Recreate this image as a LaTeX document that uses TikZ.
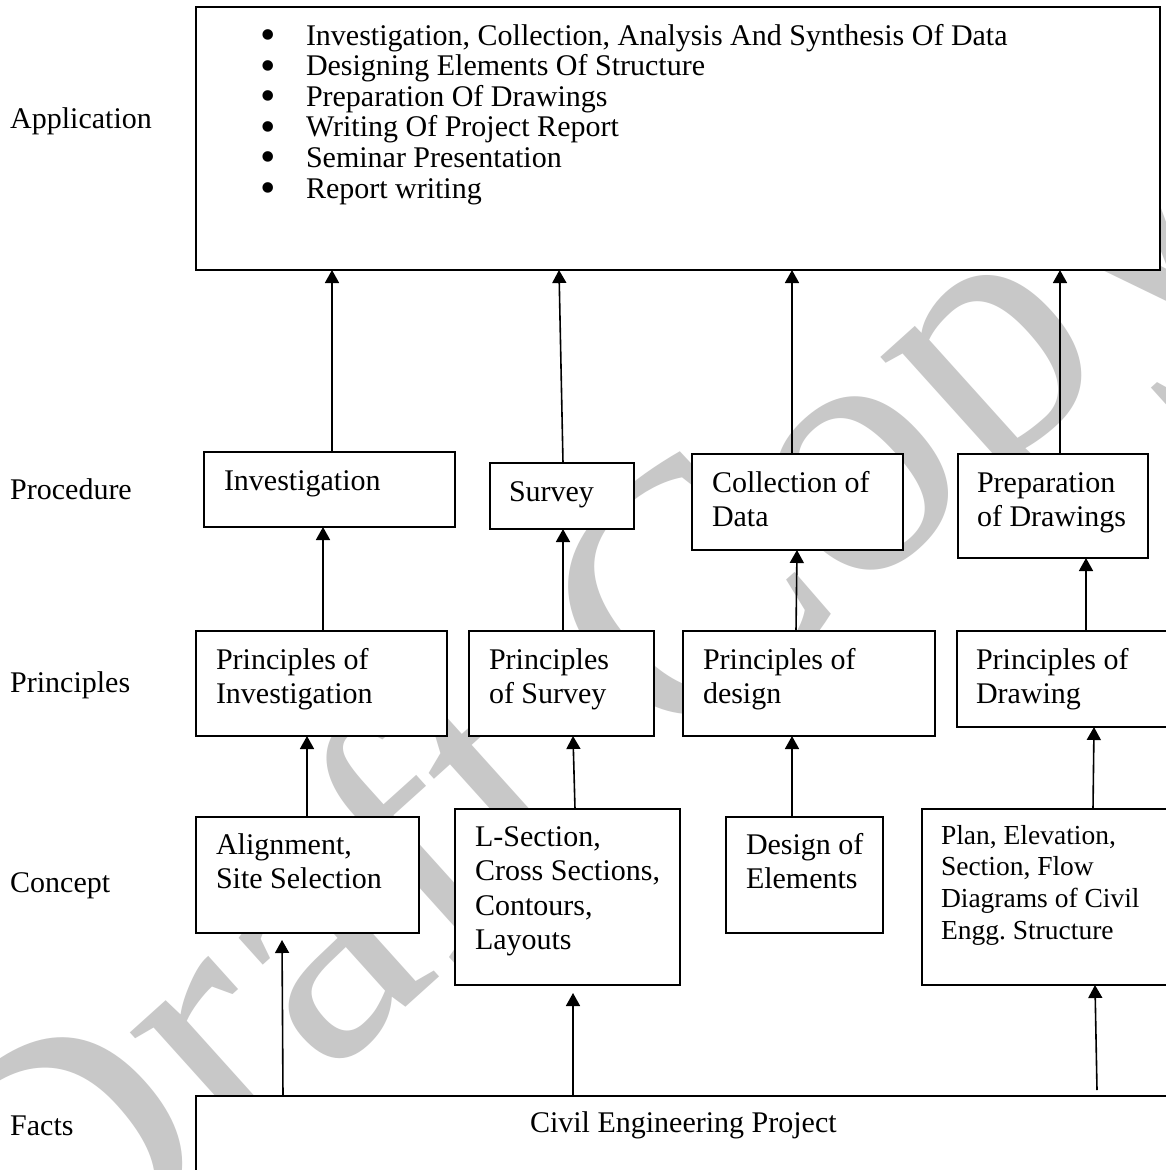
\documentclass[tikz,border=0pt]{standalone}
\usepackage{fontspec}
\setmainfont{Liberation Serif}
\usetikzlibrary{arrows.meta}
\definecolor{wmgray}{RGB}{200,200,200}
\frenchspacing
\newcommand{\bxt}[5]{\parbox[t][#2][t]{#1}{\raggedright\leftskip=#3\relax\parindent=0pt\vspace*{\dimexpr#4-\ht\strutbox\relax}\strut#5\par}}
\newcommand{\bul}{\leavevmode\llap{\raisebox{-4.5pt}{\fontsize{44}{44}\selectfont\textbullet}\hspace{30pt}}}
\begin{document}
\begin{tikzpicture}[x=1pt,y=-1pt,
  box/.style={draw, fill=white, line width=1.6pt, inner sep=0pt, outer sep=0pt, anchor=north west, font=\fontsize{30}{34.5}\selectfont},
  arr/.style={line width=1.6pt, -{Triangle[length=13pt,width=14pt]}},
  lbl/.style={anchor=base west, inner sep=0pt, font=\fontsize{30}{34.5}\selectfont},
  wmark/.style={anchor=base west, inner sep=0pt, rotate=42, text=wmgray, font=\fontsize{360}{360}\selectfont}]
\useasboundingbox (0,0) rectangle (1165,1170);
\fill[white] (0,0) rectangle (1165,1170);
% watermark
\node[wmark] (wm) at (42,1335) {Draft Copy};
% left labels
\node[lbl] (lapp) at (10,128) {Application};
\node[lbl] (lproc) at (10,499) {Procedure};
\node[lbl] (lprin) at (10,692) {Principles};
\node[lbl] (lcon) at (10,892) {Concept};
\node[lbl] (lfac) at (10,1135) {Facts};
% application
\node[box, font=\fontsize{30}{30.6}\selectfont] (app) at (196,7) {\bxt{964pt}{263pt}{110pt}{38pt}{%
\bul Investigation, Collection, Analysis And Synthesis Of Data\\
\bul Designing Elements Of Structure\\
\bul Preparation Of Drawings\\
\bul Writing Of Project Report\\
\bul Seminar Presentation\\
\bul Report writing}};
% procedure
\node[box] (inv) at (204,452) {\bxt{251pt}{75pt}{20pt}{38pt}{Investigation}};
\node[box] (surv) at (490,463) {\bxt{144pt}{66pt}{19pt}{38pt}{Survey}};
\node[box] (coll) at (692,454) {\bxt{211pt}{96pt}{20pt}{38pt}{Collection of\\Data}};
\node[box] (prep) at (958,454) {\bxt{190pt}{104pt}{19pt}{38pt}{Preparation\\of Drawings}};
% principles
\node[box] (pinv) at (196,631) {\bxt{251pt}{105pt}{20pt}{38pt}{Principles of\\Investigation}};
\node[box] (psurv) at (469,631) {\bxt{185pt}{105pt}{20pt}{38pt}{Principles\\of Survey}};
\node[box] (pdes) at (683,631) {\bxt{252pt}{105pt}{20pt}{38pt}{Principles of\\design}};
\node[box] (pdraw) at (957,631) {\bxt{228pt}{96pt}{19pt}{38pt}{Principles of\\Drawing}};
% concept
\node[box] (align) at (196,817) {\bxt{223pt}{116pt}{20pt}{37pt}{Alignment,\\Site Selection}};
\node[box] (lsec) at (455,809) {\bxt{225pt}{176pt}{20pt}{37pt}{L-Section,\\Cross Sections,\\Contours,\\Layouts}};
\node[box] (des) at (726,817) {\bxt{157pt}{116pt}{20pt}{37pt}{Design of\\Elements}};
\node[box, font=\fontsize{27.5}{31.7}\selectfont] (plan) at (922,809) {\bxt{263pt}{176pt}{19pt}{35pt}{Plan, Elevation,\\Section, Flow\\Diagrams of Civil\\Engg. Structure}};
% facts
\node[box] (facts) at (196,1096) {\bxt{989pt}{94pt}{334pt}{36pt}{Civil Engineering Project}};
% arrows: procedure -> application
\draw[arr] ([xshift=2.5pt]inv.north) -- ([xshift=-346pt]app.south);
\draw[arr] ([xshift=1pt]surv.north) -- ([xshift=-119pt]app.south);
\draw[arr] ([xshift=-5.5pt]coll.north) -- ([xshift=114pt]app.south);
\draw[arr] ([xshift=7pt]prep.north) -- ([xshift=382pt]app.south);
% principles -> procedure
\draw[arr] ([xshift=1.5pt]pinv.north) -- ([xshift=-6.5pt]inv.south);
\draw[arr] ([xshift=1.5pt]psurv.north) -- ([xshift=1pt]surv.south);
\draw[arr] ([xshift=-13pt]pdes.north) -- ([xshift=-0.5pt]coll.south);
\draw[arr] ([xshift=15pt]pdraw.north) -- ([xshift=33pt]prep.south);
% concept -> principles
\draw[arr] ([xshift=-0.5pt]align.north) -- ([xshift=-14.5pt]pinv.south);
\draw[arr] ([xshift=7.5pt]lsec.north) -- ([xshift=11.5pt]psurv.south);
\draw[arr] ([xshift=-12.5pt]des.north) -- ([xshift=-17pt]pdes.south);
\draw[arr] ([xshift=39.5pt]plan.north) -- ([xshift=23pt]pdraw.south);
% facts -> concept
\draw[arr] ([xshift=-407.5pt]facts.north) -- ([xshift=-25.5pt,yshift=-7pt]align.south);
\draw[arr] ([xshift=-117.5pt]facts.north) -- ([xshift=5.5pt,yshift=-8pt]lsec.south);
\draw[arr] ([xshift=406.5pt,yshift=6pt]facts.north) -- ([xshift=41.5pt]plan.south);
\end{tikzpicture}
\end{document}
